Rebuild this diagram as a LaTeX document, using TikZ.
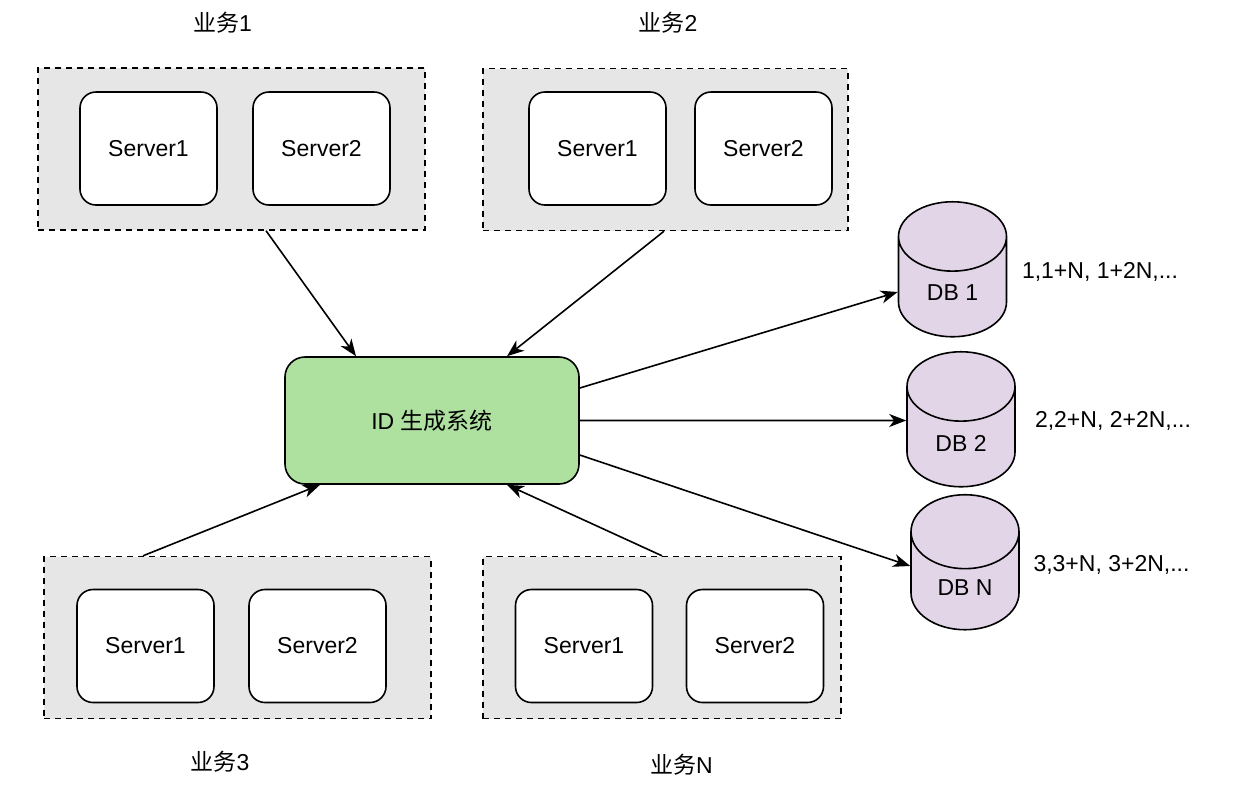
\documentclass[tikz,border=0pt]{standalone}
\usepackage{fontspec}
\setmainfont{Liberation Sans}
\newfontfamily\cjk{Noto Sans CJK SC}
\usetikzlibrary{shapes.geometric, arrows.meta}
\definecolor{groupgray}{HTML}{E6E6E6}
\definecolor{idgreen}{RGB}{174,224,160}
\definecolor{dbpurple}{HTML}{E1D5E7}

\begin{document}
\begin{tikzpicture}[x=1pt, y=-1pt, font=\fontsize{23}{27}\selectfont, line width=1.6pt]
\tikzset{GroupStyle/.style = {draw, line width=1.4pt, dash pattern=on 6pt off 5pt, fill=groupgray, minimum height=162pt},
ServerStyle/.style = {draw, rounded corners=16pt, fill=white, minimum width=137pt, minimum height=113pt},
DBStyle/.style = {draw, cylinder, shape border rotate=90, aspect=1.2, fill=dbpurple, minimum width=108pt, minimum height=135pt},
LinkStyle/.style = {-{Stealth[length=17pt, width=13pt, inset=5pt]}}
}
    \useasboundingbox (0,0) rectangle (1246,796);

    % Draw business groups
    \node[GroupStyle, minimum width=387pt] (g1) at (231.5,149) {};
    \node[GroupStyle, minimum width=365pt] (g2) at (665.5,149.5) {};
    \node[GroupStyle, minimum width=387pt] (g3) at (237.5,637.5) {};
    \node[GroupStyle, minimum width=358pt] (gN) at (662,637.5) {};

    \node (g1label) at (222.5,23) {{\cjk 业务}1};
    \node (g2label) at (668,23) {{\cjk 业务}2};
    \node (g3label) at (220,762) {{\cjk 业务}3};
    \node (gNlabel) at (681.5,765) {{\cjk 业务}N};

    % Draw servers
    \node[ServerStyle] (s11) at (148.5,148.5) {Server1};
    \node[ServerStyle] (s12) at (321.5,148.5) {Server2};
    \node[ServerStyle] (s21) at (597.5,148.5) {Server1};
    \node[ServerStyle] (s22) at (763.5,148.5) {Server2};
    \node[ServerStyle] (s31) at (145.5,646)   {Server1};
    \node[ServerStyle] (s32) at (317.5,646)   {Server2};
    \node[ServerStyle] (sN1) at (584,646)     {Server1};
    \node[ServerStyle] (sN2) at (755,646)     {Server2};

    % ID system
    \node[draw, rounded corners=20pt, fill=idgreen, minimum width=294pt, minimum height=127pt] (id) at (432,420.5) {ID {\cjk 生成系统}};

    % Databases
    \node[DBStyle] (db1) at (952.5,293) {DB 1};
    \node[DBStyle] (db2) at (961,443)   {DB 2};
    \node[DBStyle] (dbN) at (965,587.5) {DB N};

    \node (db1ids) at (1100,272)   {1,1+N, 1+2N,...};
    \node (db2ids) at (1113,421)   {2,2+N, 2+2N,...};
    \node (dbNids) at (1111.5,565) {3,3+N, 3+2N,...};

    % Draw links
    \draw[LinkStyle] ([xshift=34.5pt]g1.south) -- ([xshift=-76pt]id.north);
    \draw[LinkStyle] ([xshift=-1.5pt]g2.south) -- ([xshift=75pt]id.north);
    \draw[LinkStyle] ([xshift=-94.5pt]g3.north) -- ([xshift=-112pt]id.south);
    \draw[LinkStyle] (gN.north) -- ([xshift=75pt]id.south);

    \draw[LinkStyle] ([yshift=32.5pt]id.east) -- ([yshift=1pt]db1.west);
    \draw[LinkStyle] (id.east) -- ([yshift=22.5pt]db2.west);
    \draw[LinkStyle] ([yshift=-34.5pt]id.east) -- ([yshift=21.5pt]dbN.west);
\end{tikzpicture}
\end{document}
